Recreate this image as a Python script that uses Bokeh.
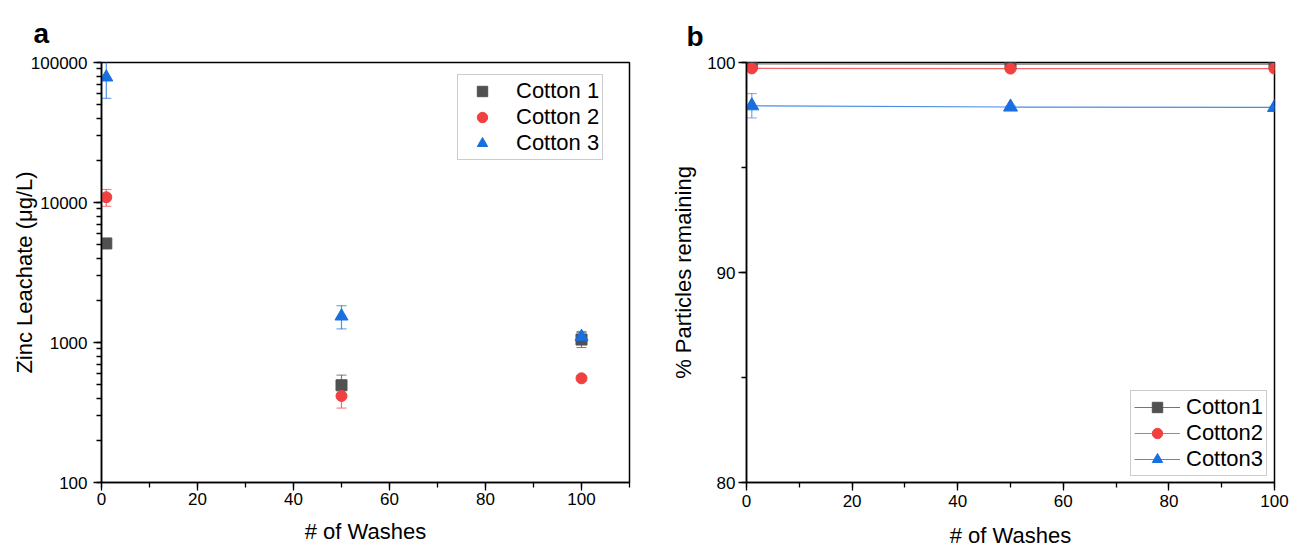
from bokeh.plotting import figure
from bokeh.models import (Range1d, Whisker, ColumnDataSource, Legend, LegendItem,
                          Title, LogTicker, SingleIntervalTicker, NumeralTickFormatter)
from bokeh.layouts import row
from bokeh.embed import file_html
from bokeh.resources import INLINE

# ---------------- data ----------------
washes = [1, 50, 100]
series = ["Cotton 1", "Cotton 2", "Cotton 3"]
# panel a: zinc leachate (ug/L)
zinc_c1 = [5100, 495, 1050]
zinc_c1_err = [150, 90, 130]
zinc_c2 = [10900, 415, 555]
zinc_c2_err = [1500, 75, 25]
zinc_c3 = [78500, 1540, 1100]
zinc_c3_err = [23000, 290, 100]
# panel b: % particles remaining
pct_labels = ["Cotton1", "Cotton2", "Cotton3"]
pct_c1 = [99.93, 99.92, 99.92]
pct_c1_err = [0.05, 0.05, 0.05]
pct_c2 = [99.72, 99.71, 99.71]
pct_c2_err = [0.08, 0.05, 0.05]
pct_c3 = [97.94, 97.88, 97.86]
pct_c3_err = [0.58, 0.05, 0.05]

colors = ["#515151", "#F14040", "#1A6FDF"]
markers = ["square", "circle", "triangle"]
FONT = "Liberation Sans"


def style_axes(p):
    for ax in p.axis:
        ax.axis_line_width = 1.5
        ax.axis_line_color = "black"
        ax.major_tick_line_color = "black"
        ax.minor_tick_line_color = "black"
        ax.major_tick_line_width = 1.3
        ax.minor_tick_line_width = 1.3
        ax.major_tick_in = 0
        ax.major_tick_out = 8
        ax.minor_tick_in = 0
        ax.minor_tick_out = 5
        ax.major_label_text_font = FONT
        ax.major_label_text_font_size = "17px"
        ax.major_label_text_color = "black"
        ax.axis_label_text_font = FONT
        ax.axis_label_text_font_size = "22px"
        ax.axis_label_text_font_style = "normal"
        ax.axis_label_text_color = "black"
    p.xgrid.visible = False
    p.ygrid.visible = False
    p.outline_line_color = "black"
    p.outline_line_width = 1.5
    p.outline_line_alpha = 1.0


# ---------------- panel a ----------------
pa = figure(width=668, height=550, y_axis_type="log", output_backend="svg",
            toolbar_location=None, x_range=Range1d(0, 110), y_range=Range1d(100, 100000),
            min_border_left=101, min_border_right=39, min_border_top=62, min_border_bottom=63)
pa.xaxis.ticker = SingleIntervalTicker(interval=20, num_minor_ticks=2)
pa.yaxis.ticker = LogTicker(num_minor_ticks=10)
pa.yaxis.ticker.desired_num_ticks = 4
pa.yaxis.formatter = NumeralTickFormatter(format="0")
pa.xaxis.axis_label = "# of Washes"
pa.yaxis.axis_label = "Zinc Leachate (μg/L)"
style_axes(pa)
pa.yaxis.major_label_standoff = 6
pa.yaxis.axis_label_standoff = -9
pa.xaxis.major_label_standoff = 2
pa.xaxis.axis_label_standoff = 11

a_vals = [zinc_c1, zinc_c2, zinc_c3]
a_errs = [zinc_c1_err, zinc_c2_err, zinc_c3_err]
items_a = []
for name, ys, es, col, mk in zip(series, a_vals, a_errs, colors, markers):
    src = ColumnDataSource(dict(x=washes, y=ys,
                                lo=[v - e for v, e in zip(ys, es)],
                                hi=[v + e for v, e in zip(ys, es)]))
    w = Whisker(source=src, base="x", lower="lo", upper="hi", line_color=col,
                line_alpha=0.75, line_width=1.2)
    w.upper_head.size = 10
    w.lower_head.size = 10
    w.upper_head.line_color = col
    w.lower_head.line_color = col
    w.upper_head.line_alpha = 0.75
    w.lower_head.line_alpha = 0.75
    pa.add_layout(w)
    r = pa.scatter("x", "y", source=src, marker=mk, size=11 if mk != "triangle" else 13,
                   fill_color=col, line_color=col)
    items_a.append(LegendItem(label=name, renderers=[r]))

leg_a = Legend(items=items_a, location=(356, 322), label_text_font=FONT,
               label_text_font_size="22px", label_text_color="black",
               border_line_color="#999999", border_line_width=1.2,
               padding=3, spacing=0, glyph_width=42, label_standoff=13, margin=0,
               label_height=26, glyph_height=26, background_fill_alpha=1.0)
pa.add_layout(leg_a)
pa.add_layout(Title(text="a", text_font=FONT, text_font_size="28px", text_font_style="bold",
                    text_color="black", align="left", offset=-68, standoff=27), "above")

# ---------------- panel b ----------------
pb = figure(width=623, height=550, output_backend="svg", toolbar_location=None,
            x_range=Range1d(0, 100), y_range=Range1d(80, 100),
            min_border_left=75, min_border_right=17, min_border_top=56, min_border_bottom=66)
pb.xaxis.ticker = SingleIntervalTicker(interval=20, num_minor_ticks=2)
pb.yaxis.ticker = SingleIntervalTicker(interval=10, num_minor_ticks=2)
pb.xaxis.axis_label = "# of Washes"
pb.yaxis.axis_label = "% Particles remaining"
style_axes(pb)
pb.yaxis.major_label_standoff = 3
pb.yaxis.axis_label_standoff = 8
pb.xaxis.major_label_standoff = 4
pb.xaxis.axis_label_standoff = 13

b_vals = [pct_c1, pct_c2, pct_c3]
b_errs = [pct_c1_err, pct_c2_err, pct_c3_err]
items_b = []
for name, ys, es, col, mk in zip(pct_labels, b_vals, b_errs, colors, markers):
    src = ColumnDataSource(dict(x=washes, y=ys,
                                lo=[v - e for v, e in zip(ys, es)],
                                hi=[v + e for v, e in zip(ys, es)]))
    ln = pb.line("x", "y", source=src, line_color=col, line_width=1.2, line_alpha=0.8)
    w = Whisker(source=src, base="x", lower="lo", upper="hi", line_color=col,
                line_alpha=0.6, line_width=1.2)
    w.upper_head.size = 10
    w.lower_head.size = 10
    w.upper_head.line_color = col
    w.lower_head.line_color = col
    w.upper_head.line_alpha = 0.6
    w.lower_head.line_alpha = 0.6
    pb.add_layout(w)
    r = pb.scatter("x", "y", source=src, marker=mk, size=11 if mk != "triangle" else 14,
                   fill_color=col, line_color=col)
    items_b.append(LegendItem(label=name, renderers=[ln, r]))

leg_b = Legend(items=items_b, location=(384, 6), label_text_font=FONT,
               label_text_font_size="22px", label_text_color="black",
               border_line_color="#999999", border_line_width=1.2,
               padding=3, spacing=0, glyph_width=46, label_standoff=6, margin=0,
               label_height=26, glyph_height=26, background_fill_alpha=1.0)
pb.add_layout(leg_b)
pb.add_layout(Title(text="b", text_font=FONT, text_font_size="28px", text_font_style="bold",
                    text_color="black", align="left", offset=-60, standoff=21), "above")

layout = row(pa, pb)
open("out.html", "w").write(file_html(layout, INLINE))
